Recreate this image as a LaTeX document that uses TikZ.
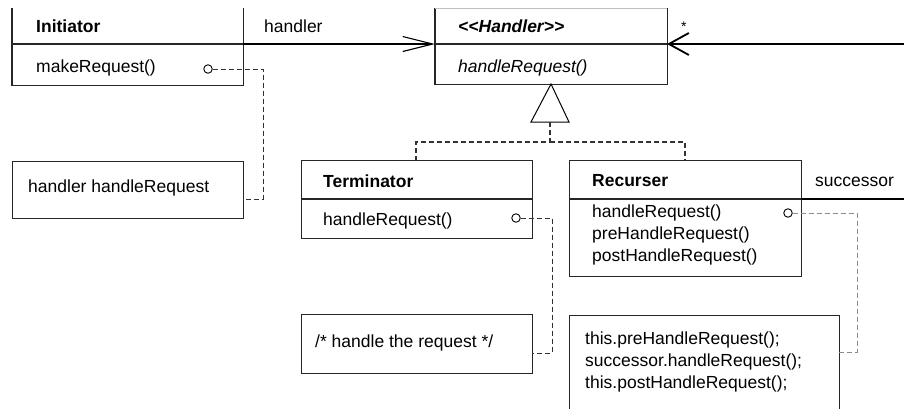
\documentclass[tikz,border=0pt]{standalone}
\usepackage{fontspec}
\setmainfont{Liberation Sans}
\usetikzlibrary{arrows.meta}
\tikzset{
  boxline/.style={line width=1.1pt, draw=black!85},
  box/.style={boxline, inner sep=0pt, anchor=north west},
  frame/.style={inner sep=0pt, anchor=north west},
  txt/.style={anchor=base west, inner sep=0pt, font=\fontsize{17.5}{21}\selectfont},
  btxt/.style={txt, font=\fontsize{17.5}{21}\selectfont\bfseries},
  itxt/.style={txt, font=\fontsize{17.5}{21}\selectfont\itshape},
  bitxt/.style={txt, font=\fontsize{17.5}{21}\selectfont\bfseries\itshape},
  notelink/.style={line width=1pt, dash pattern=on 5pt off 3pt, draw=black!80},
  lightlink/.style={line width=1pt, dash pattern=on 5pt off 3pt, draw=black!45},
  port/.style={circle, draw=black, line width=0.9pt, inner sep=0pt, minimum size=8.5pt, fill=white},
  assoc/.style={line width=1.1pt, draw=black, -{Straight Barb[length=30pt,width=15pt,line width=1.1pt]}},
  assocb/.style={line width=1.8pt, draw=black, -{Straight Barb[length=20pt,width=22pt,line width=1.8pt]}},
  mlines/.style={align=left, anchor=north west, inner sep=0pt, font=\fontsize{17.5}{22}\selectfont}
}
\begin{document}
\begin{tikzpicture}[x=1pt,y=-1pt]
\clip (0,0) rectangle (904,408);
\fill[white] (0,0) rectangle (904,408);

% Initiator
\node[frame, minimum width=231pt, minimum height=77pt] (init) at (12,8) {};
\draw[boxline] (init.north west) -- (init.south west) -- (init.south east) -- (init.north east);
\draw[boxline] (12,44) -- (243,44);
\node[btxt] (initT) at (36,32) {Initiator};
\node[txt] (initM) at (36,72) {makeRequest()};
\node[port] (initP) at (208,69) {};

% Handler
\node[frame, minimum width=232pt, minimum height=76pt] (hand) at (435,8) {};
\draw[boxline] (hand.north east) -- (hand.south east) -- (hand.south west) -- (hand.north west);
\draw[line width=1pt, draw=black!25] (hand.north west) -- (hand.north east);
\draw[boxline] (435,44) -- (667,44);
\node[bitxt] (handT) at (458,32) {<{}<Handler>{}>};
\node[itxt] (handM) at (458,72) {handleRequest()};

% Terminator
\node[box, minimum width=231pt, minimum height=78pt] (term) at (301,160) {};
\draw[boxline] (301,199) -- (532,199);
\node[btxt] (termT) at (323,187) {Terminator};
\node[txt] (termM) at (323,225) {handleRequest()};
\node[port] (termP) at (516,218) {};

% Recurser
\node[box, minimum width=232pt, minimum height=116pt] (rec) at (569,160) {};
\draw[boxline] (569,199) -- (801,199);
\node[btxt] (recT) at (592,186) {Recurser};
\node[mlines] (recM) at (592,205) {handleRequest()\\preHandleRequest()\\postHandleRequest()};
\node[port] (recP) at (788,213) {};

% Notes
\node[box, minimum width=231pt, minimum height=57pt] (note1) at (12,161) {};
\node[txt] (note1T) at (28,192) {handler handleRequest};
\node[box, minimum width=231pt, minimum height=59pt] (note2) at (301,314) {};
\node[txt] (note2T) at (315,347) {/* handle the request */};
\node[box, minimum width=270pt, minimum height=120pt] (note3) at (569,315) {};
\node[mlines] (note3T) at (585,332) {this.preHandleRequest();\\successor.handleRequest();\\this.postHandleRequest();};

% Associations
\coordinate (hL) at (435,44);
\coordinate (hR) at (667,44);
\coordinate (iR) at (243,44);
\coordinate (farR) at (906,44);
\draw[assoc] (iR) -- (hL);
\node[txt] (lblH) at (264,32) {handler};
\draw[assocb] (farR) -- (hR);
\node[txt, font=\fontsize{14}{16}\selectfont] (lblStar) at (681,31) {*};
\coordinate (recR) at (801,199);
\coordinate (farR2) at (906,199);
\draw[line width=1.8pt] (recR) -- (farR2);
\node[txt] (lblS) at (815,186) {successor};

% Generalization
\coordinate (apex) at (551,84);
\draw[line width=1pt, fill=white] (apex) -- (569,122) -- (531,122) -- cycle;
\coordinate (triB) at (550,122);
\coordinate (termTop) at (416,160);
\coordinate (recTop) at (685,160);
\draw[notelink, line width=1.2pt] (triB) -- (550,142) -| (termTop);
\draw[notelink, line width=1.2pt] (550,142) -| (recTop);

% Note links
\coordinate (n1R) at (243,199);
\draw[notelink] (initP.east) -- (263,69) -- (263,199) -- (n1R);
\coordinate (n2R) at (532,353);
\draw[notelink] (termP.east) -- (552,218) -- (552,353) -- (n2R);
\coordinate (n3R) at (839,352);
\draw[lightlink] (recP.east) -- (857,213) -- (857,352) -- (n3R);
\end{tikzpicture}
\end{document}
